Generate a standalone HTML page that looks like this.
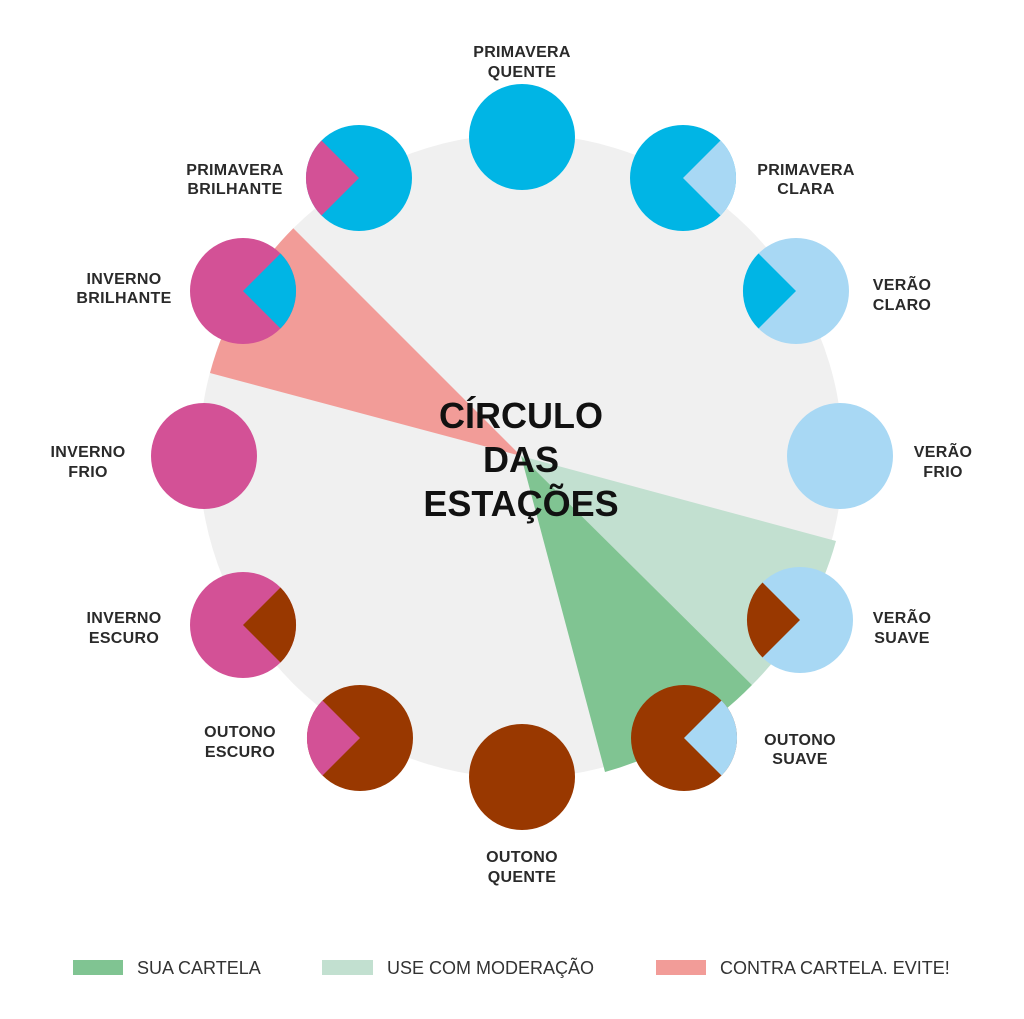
<!DOCTYPE html>
<html><head><meta charset="utf-8"><style>
html,body{margin:0;padding:0;background:#fff;}
svg{display:block}
.l{font-family:"Liberation Sans",sans-serif;font-weight:bold;font-size:16px;fill:#2a2a2a;text-anchor:middle;letter-spacing:0.3px}
.t{font-family:"Liberation Sans",sans-serif;font-weight:bold;font-size:36px;fill:#111;text-anchor:middle}
.g{font-family:"Liberation Sans",sans-serif;font-size:18px;fill:#333}
</style></head><body>
<svg width="1024" height="1019" viewBox="0 0 1024 1019" xmlns="http://www.w3.org/2000/svg">
<circle cx="521" cy="456" r="322" fill="#f0f0f0"/>
<path d="M521 456 L210 373 A322 322 0 0 1 293.3 228.3 Z" fill="#f29c98"/>
<path d="M521 456 L836 541 A326 326 0 0 1 752 685 Z" fill="#c2e0d0"/>
<path d="M521 456 L752 685 A326 326 0 0 1 605 772 Z" fill="#80c492"/>

<!-- small circles -->
<circle cx="522" cy="137" r="53" fill="#00b5e5"/>

<circle cx="683" cy="178" r="53" fill="#00b5e5"/>
<path d="M683 178 L720.5 140.5 A53 53 0 0 1 720.5 215.5 Z" fill="#a8d8f4"/>

<circle cx="796" cy="291" r="53" fill="#a8d8f4"/>
<path d="M800 291 L762.5 253.5 A53 53 0 0 0 762.5 328.5 Z" fill="#00b5e5" transform="translate(-4 0)"/>

<circle cx="840" cy="456" r="53" fill="#a8d8f4"/>

<circle cx="800" cy="620" r="53" fill="#a8d8f4"/>
<path d="M800 620 L762.5 582.5 A53 53 0 0 0 762.5 657.5 Z" fill="#993800"/>

<circle cx="684" cy="738" r="53" fill="#993800"/>
<path d="M684 738 L721.5 700.5 A53 53 0 0 1 721.5 775.5 Z" fill="#a8d8f4"/>

<circle cx="522" cy="777" r="53" fill="#993800"/>

<circle cx="360" cy="738" r="53" fill="#993800"/>
<path d="M360 738 L322.5 700.5 A53 53 0 0 0 322.5 775.5 Z" fill="#d35196"/>

<circle cx="243" cy="625" r="53" fill="#d35196"/>
<path d="M243 625 L280.5 587.5 A53 53 0 0 1 280.5 662.5 Z" fill="#993800"/>

<circle cx="204" cy="456" r="53" fill="#d35196"/>

<circle cx="243" cy="291" r="53" fill="#d35196"/>
<path d="M243 291 L280.5 253.5 A53 53 0 0 1 280.5 328.5 Z" fill="#00b5e5"/>

<circle cx="359" cy="178" r="53" fill="#00b5e5"/>
<path d="M359 178 L321.5 140.5 A53 53 0 0 0 321.5 215.5 Z" fill="#d35196"/>

<!-- labels -->
<text class="l" x="522" y="57">PRIMAVERA</text><text class="l" x="522" y="77">QUENTE</text>
<text class="l" x="806" y="175">PRIMAVERA</text><text class="l" x="806" y="194">CLARA</text>
<text class="l" x="902" y="290">VERÃO</text><text class="l" x="902" y="310">CLARO</text>
<text class="l" x="943" y="457">VERÃO</text><text class="l" x="943" y="477">FRIO</text>
<text class="l" x="902" y="623">VERÃO</text><text class="l" x="902" y="643">SUAVE</text>
<text class="l" x="800" y="745">OUTONO</text><text class="l" x="800" y="764">SUAVE</text>
<text class="l" x="522" y="862">OUTONO</text><text class="l" x="522" y="882">QUENTE</text>
<text class="l" x="240" y="737">OUTONO</text><text class="l" x="240" y="757">ESCURO</text>
<text class="l" x="124" y="623">INVERNO</text><text class="l" x="124" y="643">ESCURO</text>
<text class="l" x="88" y="457">INVERNO</text><text class="l" x="88" y="477">FRIO</text>
<text class="l" x="124" y="284">INVERNO</text><text class="l" x="124" y="303">BRILHANTE</text>
<text class="l" x="235" y="175">PRIMAVERA</text><text class="l" x="235" y="194">BRILHANTE</text>

<text class="t" x="521" y="428">CÍRCULO</text>
<text class="t" x="521" y="472">DAS</text>
<text class="t" x="521" y="516">ESTAÇÕES</text>

<rect x="73" y="960" width="50" height="15" fill="#80c492"/>
<text class="g" x="137" y="974">SUA CARTELA</text>
<rect x="322" y="960" width="51" height="15" fill="#c2e0d0"/>
<text class="g" x="387" y="974">USE COM MODERAÇÃO</text>
<rect x="656" y="960" width="50" height="15" fill="#f29c98"/>
<text class="g" x="720" y="974">CONTRA CARTELA. EVITE!</text>
</svg>
</body></html>
